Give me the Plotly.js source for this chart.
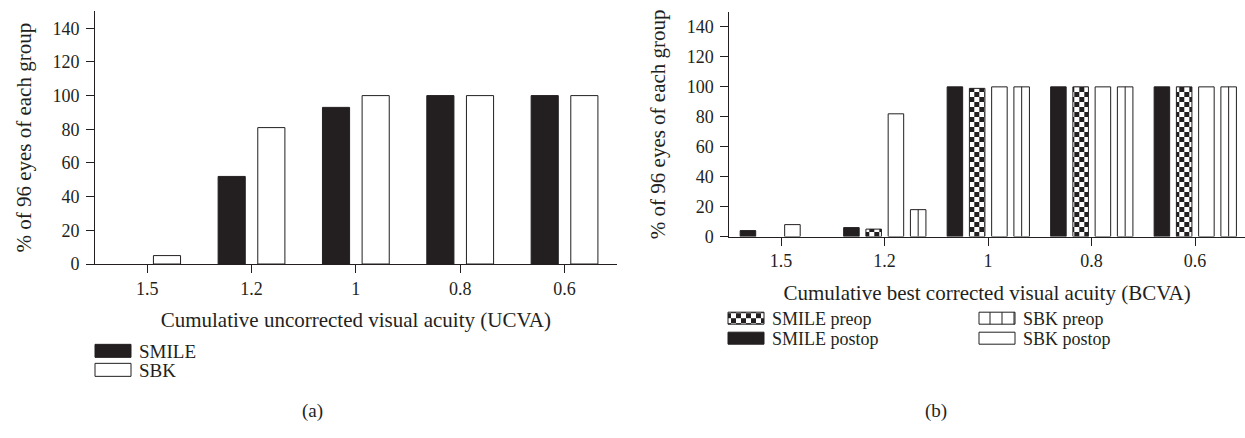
<!DOCTYPE html>
<html>
<head>
<meta charset="utf-8">
<script src="https://cdn.plot.ly/plotly-3.0.1.min.js"></script>
<style>
html,body{margin:0;padding:0;background:#fff;}
#chart{width:1245px;height:438px;}
</style>
</head>
<body>
<div id="chart"></div>
<script>
// ---- data ----
const categories = ['1.5', '1.2', '1', '0.8', '0.6'];
const yTickValues = [0, 20, 40, 60, 80, 100, 120, 140];

// (a) cumulative UCVA
const ucvaSMILE = [0, 52, 93, 100, 100];
const ucvaSBK = [5, 81, 100, 100, 100];

// (b) cumulative BCVA
const bcvaSMILEpostop = [4, 6, 100, 100, 100];
const bcvaSMILEpreop = [0, 5, 99, 100, 100];
const bcvaSBKpostop = [8, 82, 100, 100, 100];
const bcvaSBKpreop = [0, 18, 100, 100, 100];

// ---- style ----
const INK = '#231f20';
const CHECK_FG = '#fefefe';   // marker colour used to find the checker pattern
const STRIPE_FG = '#221e1f';  // marker colour used to find the stripe pattern
const FONT = '"Liberation Serif", "Times New Roman", serif';
const W = 1245, H = 438;

// no outline on empty (zero) bars
function outline(vals) { return vals.map(function (v) { return v > 0 ? 1 : 0; }); }
function blackBar(vals) { return {color: INK, line: {color: INK, width: outline(vals)}}; }
function whiteBar(vals) { return {color: '#ffffff', line: {color: INK, width: outline(vals)}}; }

const data = [
  {type: 'bar', name: 'SMILE', x: categories, y: ucvaSMILE, xaxis: 'x', yaxis: 'y',
   marker: blackBar(ucvaSMILE), width: 0.26, offset: -0.32, legend: 'legend', legendrank: 1},
  {type: 'bar', name: 'SBK', x: categories, y: ucvaSBK, xaxis: 'x', yaxis: 'y',
   marker: whiteBar(ucvaSBK), width: 0.26, offset: 0.06, legend: 'legend', legendrank: 2},

  {type: 'bar', name: 'SMILE postop', x: categories, y: bcvaSMILEpostop, xaxis: 'x2', yaxis: 'y2',
   marker: blackBar(bcvaSMILEpostop), width: 0.15, offset: -0.395, legend: 'legend2', legendrank: 2},
  {type: 'bar', name: 'SMILE preop', x: categories, y: bcvaSMILEpreop, xaxis: 'x2', yaxis: 'y2',
   marker: {color: INK, line: {color: INK, width: outline(bcvaSMILEpreop)},
            pattern: {shape: '.', fgcolor: CHECK_FG, bgcolor: INK, size: 5, solidity: 0.3, fillmode: 'replace'}},
   width: 0.15, offset: -0.18, legend: 'legend2', legendrank: 1},
  {type: 'bar', name: 'SBK postop', x: categories, y: bcvaSBKpostop, xaxis: 'x2', yaxis: 'y2',
   marker: whiteBar(bcvaSBKpostop), width: 0.15, offset: 0.035, legend: 'legend3', legendrank: 2},
  {type: 'bar', name: 'SBK preop', x: categories, y: bcvaSBKpreop, xaxis: 'x2', yaxis: 'y2',
   marker: {color: '#ffffff', line: {color: INK, width: outline(bcvaSBKpreop)},
            pattern: {shape: '|', fgcolor: STRIPE_FG, bgcolor: '#ffffff', size: 7.5, solidity: 0.13, fillmode: 'replace'}},
   width: 0.15, offset: 0.25, legend: 'legend3', legendrank: 1}
];

function yAxis(domain, anchor) {
  return {
    domain: domain, anchor: anchor, range: [0, 150], tickvals: yTickValues,
    showline: true, linecolor: INK, linewidth: 1, ticks: 'outside', ticklen: 8, tickcolor: INK,
    showgrid: false, zeroline: false, ticklabelstandoff: 3,
    tickfont: {family: FONT, size: 18, color: INK},
    title: {text: '% of 96 eyes of each group', font: {family: FONT, size: 21, color: INK}, standoff: 15}
  };
}
function xAxis(domain, anchor, range, title, standoff) {
  return {
    domain: domain, anchor: anchor, type: 'category', range: range,
    showline: true, linecolor: INK, linewidth: 1, ticks: 'outside', ticklen: 8, tickcolor: INK,
    showgrid: false, zeroline: false,
    tickfont: {family: FONT, size: 18, color: INK},
    title: {text: title, font: {family: FONT, size: 21, color: INK}, standoff: standoff}
  };
}
function legendOpts(x, yTop, size) {
  return {
    orientation: 'v', xanchor: 'left', yanchor: 'top', bgcolor: 'rgba(0,0,0,0)',
    font: {family: FONT, size: size, color: INK}, itemwidth: 42, traceorder: 'normal',
    tracegroupgap: 0, x: x / W, y: 1 - yTop / H
  };
}

const layout = {
  width: W, height: H,
  margin: {l: 0, r: 0, t: 0, b: 0},
  paper_bgcolor: '#ffffff', plot_bgcolor: '#ffffff',
  barmode: 'group', showlegend: true,
  font: {family: FONT, color: INK},
  xaxis: xAxis([95 / W, 616.7 / W], 'y', [-0.5, 4.5], 'Cumulative uncorrected visual acuity (UCVA)', 14),
  yaxis: yAxis([1 - 264 / H, 1 - 11.4 / H], 'x'),
  xaxis2: xAxis([729.3 / W, 1], 'y2', [-0.5, 4.483], 'Cumulative best corrected visual acuity (BCVA)', 15),
  yaxis2: yAxis([1 - 236.6 / H, 1 - 12 / H], 'x2'),
  legend: legendOpts(87, 332, 19),
  legend2: legendOpts(720, 300, 18),
  legend3: legendOpts(971, 300, 18),
  annotations: [
    {text: '(a)', xref: 'paper', yref: 'paper', x: 312 / W, y: 1 - 411 / H, showarrow: false,
     xanchor: 'center', yanchor: 'middle', font: {family: FONT, size: 19, color: INK}},
    {text: '(b)', xref: 'paper', yref: 'paper', x: 936 / W, y: 1 - 411 / H, showarrow: false,
     xanchor: 'center', yanchor: 'middle', font: {family: FONT, size: 19, color: INK}}
  ]
};

const NS = 'http://www.w3.org/2000/svg';
function addRect(p, x, y, w, h, fill) {
  const r = document.createElementNS(NS, 'rect');
  r.setAttribute('x', x); r.setAttribute('y', y);
  r.setAttribute('width', w); r.setAttribute('height', h);
  r.setAttribute('fill', fill);
  p.appendChild(r);
}
function clear(p) { while (p.firstChild) p.removeChild(p.firstChild); }

// wide rectangular legend keys and tighter row spacing
function restyleLegends() {
  const groups = new Map();
  document.querySelectorAll('g.traces').forEach(function (item) {
    if (!item.querySelector('text')) return;
    const par = item.parentNode;
    if (!groups.has(par)) groups.set(par, []);
    groups.get(par).push(item);
  });
  groups.forEach(function (items) {
    try {
      const names = items.map(function (it) { return it.querySelector('text').textContent.trim(); });
      const isLeft = names.indexOf('SMILE') >= 0 || names.indexOf('SBK') >= 0;
      const ROW = isLeft ? 19 : 20, GAP = isLeft ? 11 : 9, BOX_W = 36, BOX_H = isLeft ? 13 : 12;
      let y0 = null;
      items.forEach(function (item, i) {
        const tf = item.getAttribute('transform') || '';
        const m = tf.match(/translate\(\s*([-\d.e]+)[ ,]+([-\d.e]+)\s*\)/);
        if (m) {
          const x = parseFloat(m[1]), y = parseFloat(m[2]);
          if (y0 === null) y0 = y;
          item.setAttribute('transform', 'translate(' + x + ',' + (y0 + i * ROW) + ')');
        }
      });
      items.forEach(function (item) {
        const txt = item.querySelector('text');
        const path = item.querySelector('g.legendpoints path');
        if (!txt || !path) return;
        const tr = txt.getBoundingClientRect();
        const pr = path.getBoundingClientRect();
        const cx = (pr.left + pr.right) / 2;
        const right = tr.left - GAP, left = right - BOX_W;
        const x1 = (left - cx).toFixed(2), x2 = (right - cx).toFixed(2);
        path.setAttribute('d', 'M' + x1 + ',' + (-BOX_H / 2) + 'H' + x2 + 'V' + (BOX_H / 2) + 'H' + x1 + 'Z');
        path.style.stroke = INK;
        path.style.strokeWidth = '1px';
        path.style.strokeOpacity = 1;
      });
    } catch (e) { /* keep default legend key */ }
  });
}

function rgbOf(hex) {
  const n = parseInt(hex.slice(1), 16);
  return 'rgb(' + ((n >> 16) & 255) + ', ' + ((n >> 8) & 255) + ', ' + (n & 255) + ')';
}
function patternsWith(hex) {
  const a = rgbOf(hex), b = hex.toLowerCase();
  return Array.from(document.querySelectorAll('pattern')).filter(function (p) {
    const s = p.innerHTML.toLowerCase();
    return s.indexOf(a) >= 0 || s.indexOf(b) >= 0 || s.indexOf(a.replace(/ /g, '')) >= 0;
  });
}
function usersOf(id) {
  return Array.from(document.querySelectorAll('path')).filter(function (pa) {
    const f = (pa.getAttribute('style') || '') + ' ' + (pa.getAttribute('fill') || '');
    return f.indexOf('#' + id + ')') >= 0 || f.indexOf('#' + id + '"') >= 0 || f.indexOf('#' + id + "'") >= 0;
  });
}

// true checkerboard for SMILE preop
function checkerPatterns() {
  const S = 5;
  patternsWith(CHECK_FG).forEach(function (p) {
    p.setAttribute('width', 2 * S);
    p.setAttribute('height', 2 * S);
    p.removeAttribute('patternTransform');
    clear(p);
    addRect(p, 0, 0, 2 * S, 2 * S, INK);
    addRect(p, 0, 0, S, S, '#ffffff');
    addRect(p, S, S, S, S, '#ffffff');
  });
}

// one centred divider per bar, three cells in the legend key, for SBK preop
function stripePatterns() {
  patternsWith(STRIPE_FG).forEach(function (p) {
    const users = usersOf(p.id);
    const bars = users.filter(function (u) { return !u.closest('g.traces'); });
    const legs = users.filter(function (u) { return u.closest('g.traces'); });
    const build = function (pat, w, x0) {
      pat.setAttribute('patternUnits', 'userSpaceOnUse');
      pat.setAttribute('width', w); pat.setAttribute('height', 10);
      pat.setAttribute('x', x0); pat.setAttribute('y', 0);
      pat.removeAttribute('patternTransform');
      clear(pat);
      addRect(pat, 0, 0, w, 10, '#ffffff');
      addRect(pat, w / 2 - 0.5, 0, 1, 10, INK);
    };
    legs.forEach(function (u, i) {
      const np = document.createElementNS(NS, 'pattern');
      np.setAttribute('id', p.id + '-key' + i);
      p.parentNode.appendChild(np);
      const b = u.getBBox();
      build(np, b.width / 3, b.x + b.width / 6);
      u.style.fill = 'url(#' + np.getAttribute('id') + ')';
    });
    const centers = bars.map(function (u) { return u.getBBox(); })
      .filter(function (b) { return b.width > 1; })
      .map(function (b) { return b.x + b.width / 2; })
      .sort(function (a, b) { return a - b; });
    if (centers.length) {
      let step = Infinity;
      for (let i = 1; i < centers.length; i++) step = Math.min(step, centers[i] - centers[i - 1]);
      if (!isFinite(step)) step = 104;
      const k = Math.max(1, Math.round(step / 13));
      const w = step / k;
      build(p, w, centers[0] - w / 2);
    }
  });
}

function finish() {
  try { restyleLegends(); } catch (e) {}
  try { checkerPatterns(); } catch (e) {}
  try { stripePatterns(); } catch (e) {}
}

Plotly.newPlot('chart', data, layout, {staticPlot: true, displayModeBar: false}).then(function () {
  finish();
  setTimeout(finish, 300);
});
</script>
</body>
</html>
